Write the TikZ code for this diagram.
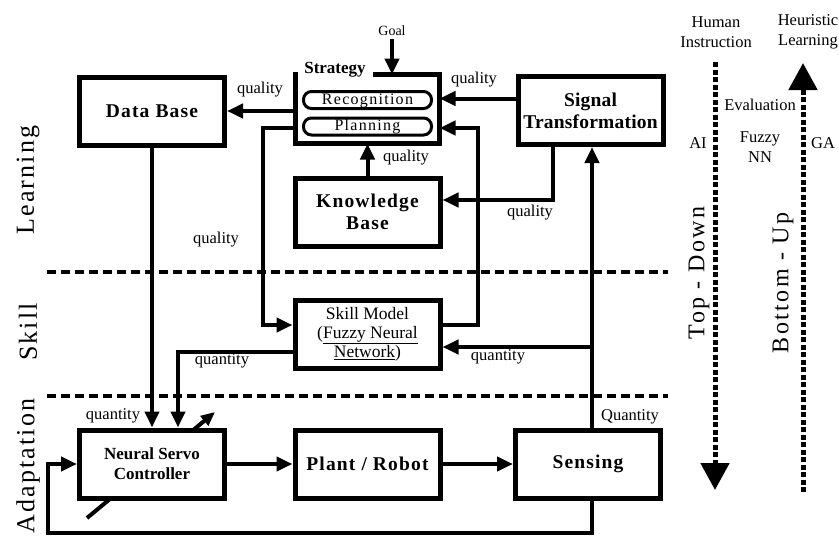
\documentclass[tikz,border=0pt]{standalone}
\usepackage{fontspec}
\setmainfont{Liberation Serif}
\usetikzlibrary{arrows.meta, calc, backgrounds}
\tikzset{
  block/.style={draw, line width=5pt, fill=white, align=center, inner sep=2pt,
    minimum width=145pt, minimum height=68pt},
  pill/.style={draw, line width=3pt, rounded corners=8pt, inner sep=0pt,
    minimum width=128pt, minimum height=17pt, text height=11pt, text depth=3pt,
    font=\fontsize{16}{18}\selectfont\addfontfeature{LetterSpace=8}},
  bigbold/.style={font=\fontsize{19.5}{22}\selectfont\bfseries\addfontfeature{LetterSpace=#1}},
  bigbold/.default=6,
  arr/.style={-{Triangle[length=16pt,width=14pt]}, line width=4pt},
  lbl/.style={font=\fontsize{16.5}{19.5}\selectfont, align=center},
  layer/.style={rotate=90, font=\fontsize{26}{28}\selectfont\addfontfeature{LetterSpace=8}},
  dirlbl/.style={rotate=90, font=\fontsize{24}{26}\selectfont\addfontfeature{LetterSpace=10}},
  sep/.style={line width=4pt, dash pattern=on 9pt off 5pt},
  trend/.style={line width=5pt, dash pattern=on 5pt off 2.5pt, -{Triangle[length=27pt,width=28pt]}},
}
\begin{document}
\begin{tikzpicture}[x=1pt, y=-1pt]
\useasboundingbox (0,0) rectangle (839,536);
% levels
\draw[sep] (47,272) -- (668,272);
\draw[sep] (47,396) -- (668,396);
\node[layer] (learn) at (28,180) {Learning};
\node[layer] (skl) at (28,332) {Skill};
\node[layer] (adapt) at (28,466) {Adaptation};

% blocks
\node[block, bigbold] (db) at (152,111.5) {Data Base};
\node[inner sep=0pt, outer sep=0pt, minimum width=144pt, minimum height=69pt] (strat) at (367.5,109) {};
\draw[line width=5pt, line cap=rect] ([xshift=80pt]strat.north west) -| (strat.south east) -| (strat.north west);
\node[font=\fontsize{17}{18}\selectfont\bfseries] (stratlbl) at (335,70) {Strategy};
\node[pill] (rec) at (367.5,100) {Recognition};
\node[pill] (plan) at (367.5,126.5) {Planning};
\node[font=\fontsize{14}{16}\selectfont] (goal) at (392,31) {Goal};
\node[block, bigbold=1] (sig) at (590.5,110.5) {Signal\\Transformation};
\node[block, bigbold] (kb) at (367.5,212) {Knowledge\\Base};
\node[block, font=\fontsize{17.5}{19}\selectfont] (skill) at (367.5,334) {Skill Model\\(\underline{Fuzzy Neural}\\\underline{Network})};
\node[block, font=\fontsize{17}{20}\selectfont\bfseries] (nsc) at (152,464) {Neural Servo\\Controller};
\node[block, bigbold] (plant) at (367.5,464) {Plant / Robot};
\node[block, bigbold] (sens) at (588,464) {Sensing};

% learning level
\draw[arr] (goal) -- (goal |- strat.north);
\coordinate (toDB) at ([yshift=-2pt]strat.west);
\draw[arr] (toDB) -- (toDB -| db.east);
\draw[arr] ([yshift=-19pt]strat.west) -| ([xshift=-30pt,yshift=9pt]skill.west) -- ([yshift=9pt]skill.west);
\coordinate (fromSig) at ([yshift=12pt]sig.west);
\draw[arr] (fromSig) -- (fromSig -| strat.east);
\draw[arr] ([yshift=9pt]skill.east) -| ([xshift=38pt,yshift=-19pt]strat.east) -- ([yshift=-19pt]strat.east);
\draw[arr] ([xshift=-38pt]sig.south) |- ([yshift=12pt]kb.east);
\draw[arr] (kb.north) -- (strat.south);

% skill and adaptation levels
\draw[arr] (db.south) -- (nsc.north);
\draw[arr] ([yshift=-18pt]skill.west) -| ([xshift=26pt]nsc.north);
\coordinate (up) at ([xshift=4pt]sens.north);
\draw[arr] (up) -- (up |- sig.south);
\coordinate (toSkill) at ([yshift=-13pt]skill.east);
\draw[arr] (up |- toSkill) -- (toSkill);
\draw[arr] (nsc) -- (plant);
\draw[arr] (plant) -- (sens);
\draw[arr] ([xshift=4pt]sens.south) -- ++(0,32) -| ([xshift=-29pt]nsc.west) -- (nsc.west);
\begin{scope}[on background layer]
  \draw[arr, -{Triangle[length=14pt,width=12pt]}] ([shift={(-65,54)}]nsc.center) -- ([shift={(63,-52)}]nsc.center);
\end{scope}

% connector labels
\node[lbl] (q1) at (260,90) {quality};
\node[lbl] (q2) at (216,240) {quality};
\node[lbl] (q3) at (474,80) {quality};
\node[lbl] (q4) at (406,158) {quality};
\node[lbl] (q5) at (530,213) {quality};
\node[lbl] (n1) at (222,361) {quantity};
\node[lbl] (n2) at (498,357) {quantity};
\node[lbl] (n3) at (113,416) {quantity};
\node[lbl] (n4) at (630,417) {Quantity};

% learning direction
\node[lbl] (human) at (716,32) {Human\\Instruction};
\node[lbl] (heur) at (808,32) {Heuristic\\Learning};
\coordinate (tdtop) at (715,62);
\coordinate (tdbot) at (715,490);
\draw[trend] (tdtop) -- (tdbot);
\coordinate (bubot) at (803,492);
\coordinate (butop) at (803,63);
\draw[trend] (bubot) -- (butop);
\node[lbl] (eval) at (760,105) {Evaluation};
\node[lbl] (ai) at (698,143) {AI};
\node[lbl] (fnn) at (760,147) {Fuzzy\\NN};
\node[lbl] (ga) at (823,143) {GA};
\node[dirlbl] (td) at (699,273) {Top - Down};
\node[dirlbl] (bu) at (783,283) {Bottom - Up};
\end{tikzpicture}
\end{document}
